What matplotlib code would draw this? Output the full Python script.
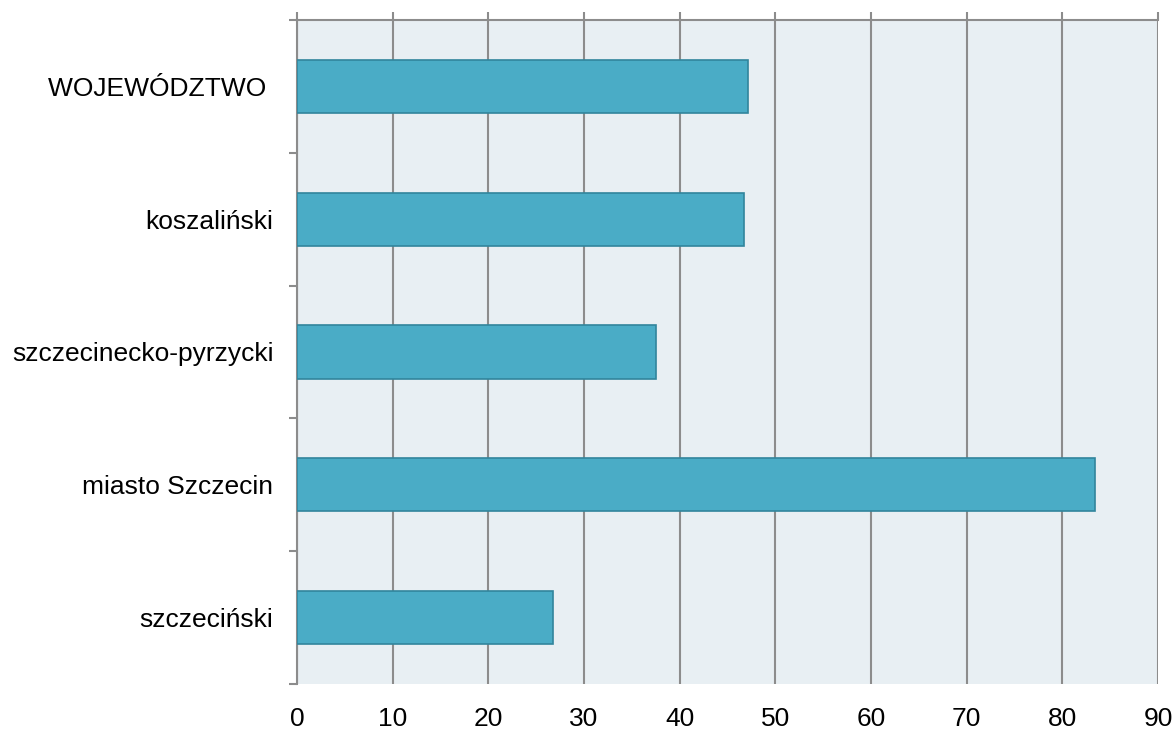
import matplotlib.pyplot as plt
import numpy as np

categories = ['WOJEWÓDZTWO ', 'koszaliński', 'szczecinecko-pyrzycki', 'miasto Szczecin', 'szczeciński']
values = [47.1, 46.7, 37.5, 83.4, 26.8]
xticks = [0, 10, 20, 30, 40, 50, 60, 70, 80, 90]

plt.rcParams['font.family'] = ['Liberation Sans', 'DejaVu Sans']
grey = '#8c8c8c'

fig = plt.figure(figsize=(11.76, 7.29), dpi=100)
ax = fig.add_axes([297/1176, 1 - 684/729, (1158-297)/1176, (684-20)/729])

ax.set_facecolor('#e8eff3')
y = np.arange(len(categories))
ax.barh(y, values, height=0.4, color='#4aacc6', edgecolor='#31859c', linewidth=1.2, zorder=3)

ax.set_xlim(0, 90)
ax.set_ylim(len(categories) - 0.5, -0.5)

# vertical grid
ax.set_xticks(xticks)
ax.xaxis.grid(True, color=grey, linewidth=1.5, zorder=1)
ax.set_axisbelow(True)
ax.tick_params(axis='x', which='major', top=True, bottom=False, labeltop=False, labelbottom=True,
               direction='out', length=5.5, width=1.5, color=grey, labelsize=19, pad=11)

# category boundaries as ticks, labels at centres
ax.set_yticks(np.arange(-0.5, len(categories), 1))
ax.set_yticklabels([])
ax.set_yticks(y, minor=True)
ax.set_yticklabels(categories, minor=True)
ax.tick_params(axis='y', which='major', length=6, width=1.5, color=grey, direction='out')
ax.tick_params(axis='y', which='minor', length=0, labelsize=19, pad=17)

for s in ['bottom', 'right']:
    ax.spines[s].set_visible(False)
for s in ['top', 'left']:
    ax.spines[s].set_color(grey)
    ax.spines[s].set_linewidth(1.5)

fig.savefig('out.png', dpi=100)
